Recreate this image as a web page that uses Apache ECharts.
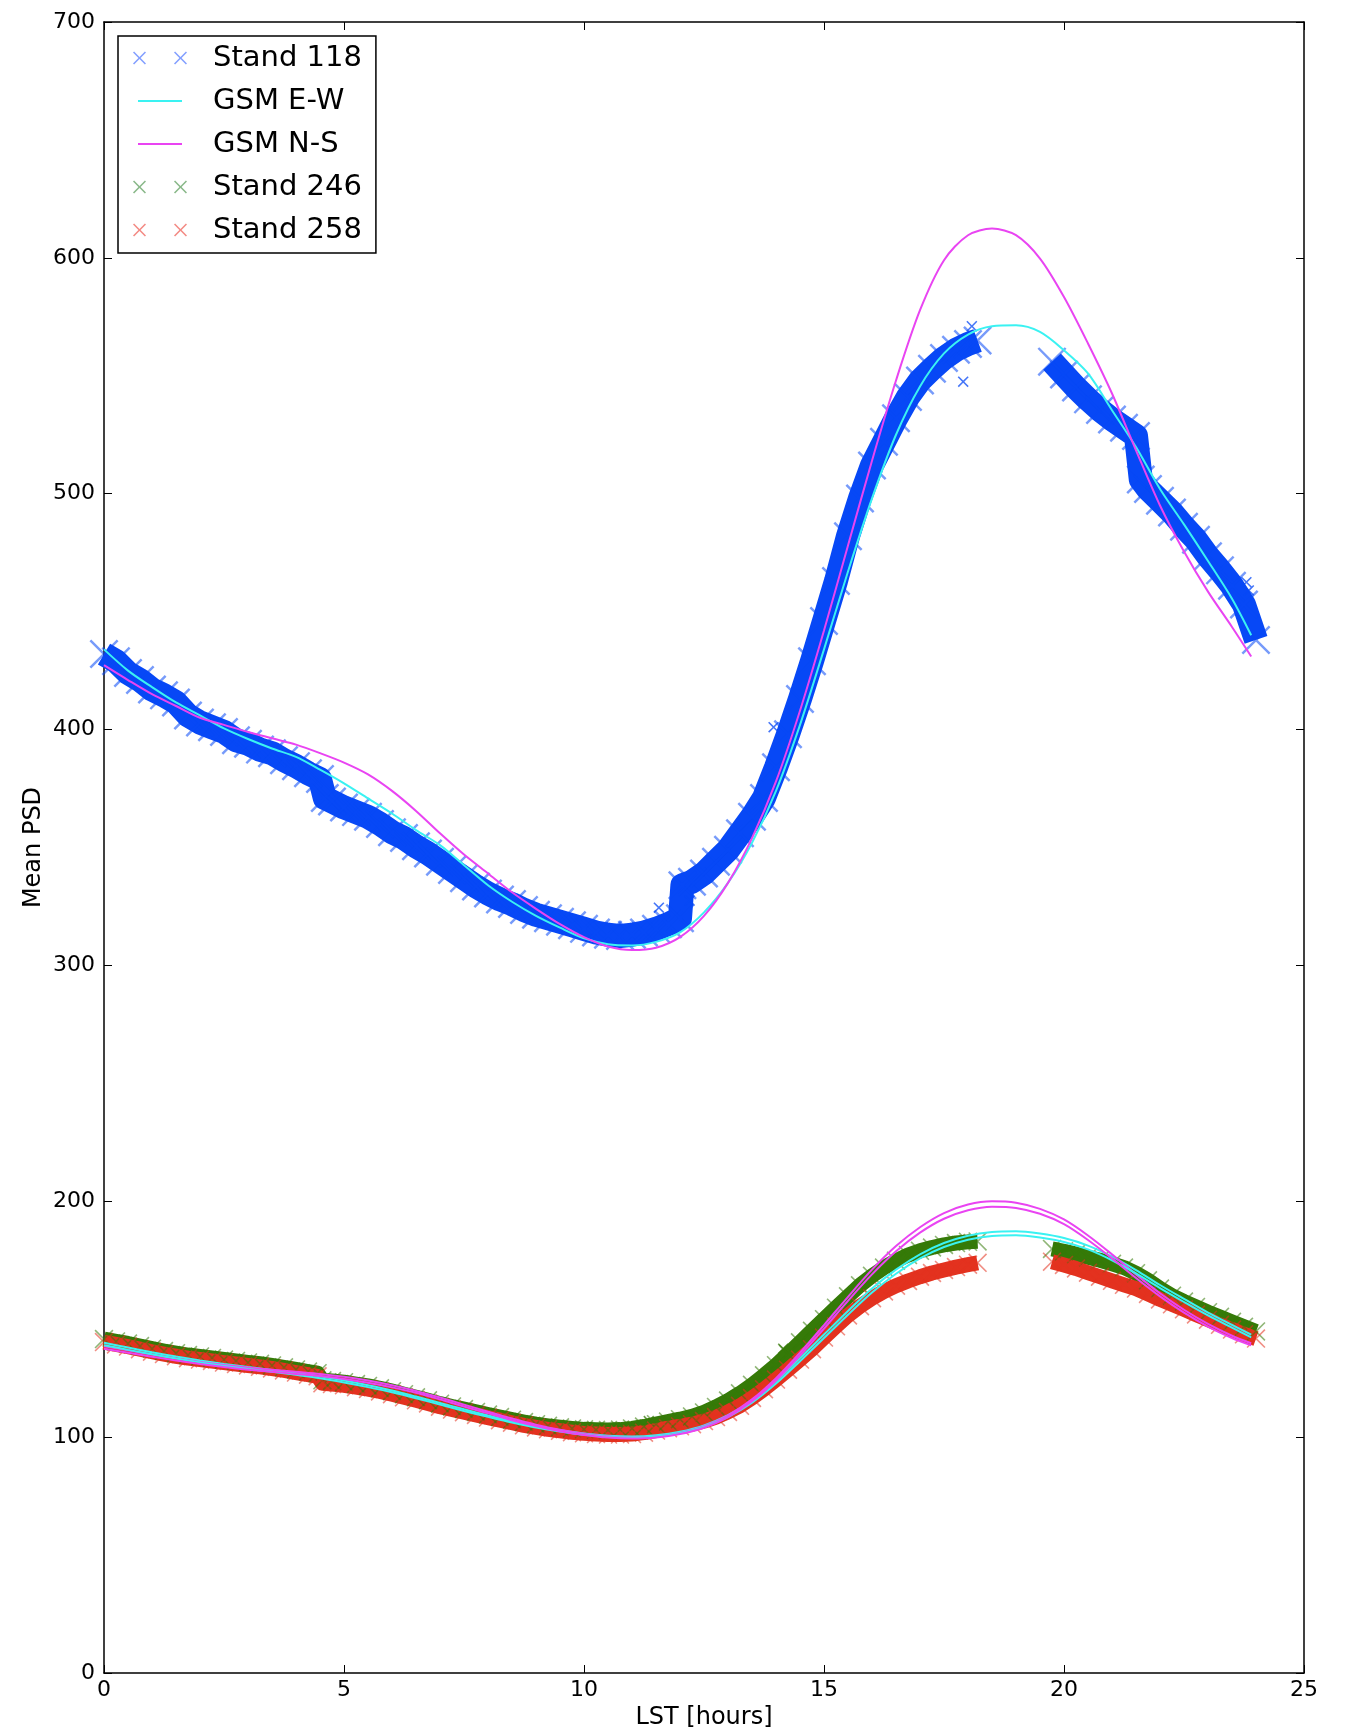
<!DOCTYPE html>
<html>
<head>
<meta charset="utf-8">
<script src="https://cdn.jsdelivr.net/npm/echarts@6/dist/echarts.min.js"></script>
<style>
  html, body { margin: 0; padding: 0; background: #ffffff; }
  #chart { width: 1348px; height: 1731px; }
</style>
</head>
<body>
<div id="chart"></div>
<script>
// Axis ticks
const xTicks = [0, 5, 10, 15, 20, 25];
const yTicks = [0, 100, 200, 300, 400, 500, 600, 700];

// Stand 118 mean PSD vs LST (hours); two runs either side of the gap
const stand118Early = [
  [0,432],[0.25,429],[0.5,424],[0.75,421],[1,417],[1.25,414.5],[1.5,411.5],[1.75,406],
  [2,403],[2.25,401],[2.5,399],[2.75,395.5],[3,394],[3.25,391.5],[3.5,390],[3.75,387],
  [4,384.5],[4.25,381.5],[4.5,379],[4.6,371],[4.75,369.5],[5,367],[5.25,365],[5.5,363],
  [5.75,360],[6,356.5],[6.25,354],[6.5,350.5],[6.75,347.5],[7,344],[7.25,340.5],[7.5,337],
  [7.75,333.5],[8,330.5],[8.25,328],[8.5,326],[8.75,323.5],[9,321.5],[9.25,320],[9.5,318.5],
  [9.75,317],[10,315.5],[10.25,314],[10.5,313],[10.75,312.5],[11,313],[11.25,314],[11.5,315.5],
  [11.75,317.5],[12,320],[12.05,334],[12.25,335.5],[12.5,339],[12.75,344],[13,349],[13.25,356],
  [13.5,363],[13.75,371],[14,384],[14.25,398],[14.5,413],[14.75,429],[15,446],[15.25,463],
  [15.5,482],[15.75,498],[16,512],[16.25,522],[16.5,532],[16.75,541],[17,548],[17.25,553],
  [17.5,557.5],[17.75,561],[18,563.5],[18.2,565]
];
const stand118Late = [
  [19.75,556],[20,550.5],[20.25,545],[20.5,540],[20.75,535.5],[21,531.5],[21.25,528],[21.5,524.5],
  [21.6,506],[21.75,502],[22,497],[22.25,492],[22.5,486],[22.75,480.5],[23,473.5],[23.25,467.5],
  [23.5,461],[23.75,453],[24,438]
];
const stand118Strays = [[11.56,324.5],[12.2,327.5],[13.95,401],[17.9,547.5],[18.08,571],[23.8,462.5],[23.85,459]];

// Stand 246
const stand246Early = [
  [0,141.6],[0.25,140.6],[0.5,139.7],[0.75,138.6],[1,137.5],[1.25,136.5],[1.5,135.6],[1.75,134.8],
  [2,134.2],[2.25,133.6],[2.5,132.9],[2.75,132.3],[3,131.7],[3.25,131.1],[3.5,130.4],[3.75,129.6],
  [4,128.7],[4.25,127.8],[4.45,127.1],[4.55,124.1],[4.75,123.8],[5,123.3],[5.25,122.5],[5.5,121.7],
  [5.75,120.7],[6,119.5],[6.25,118.2],[6.5,116.9],[6.75,115.6],[7,114.2],[7.25,113],[7.5,111.9],
  [7.75,110.7],[8,109.6],[8.25,108.5],[8.5,107.4],[8.75,106.4],[9,105.5],[9.25,104.8],[9.5,104.2],
  [9.75,103.7],[10,103.3],[10.25,103.1],[10.5,103],[10.75,103.2],[11,103.7],[11.25,104.5],[11.5,105.5],
  [11.75,106.6],[12,107.6],[12.25,108.8],[12.5,110.5],[12.75,112.8],[13,115.5],[13.25,118.6],[13.5,122.2],
  [13.75,126.2],[14,130.5],[14.25,135.3],[14.5,140.2],[14.75,145.1],[15,150],[15.25,154.9],[15.5,159.7],
  [15.75,164.4],[16,168.4],[16.25,171.9],[16.5,174.8],[16.75,177.2],[17,179],[17.25,180.4],[17.5,181.5],
  [17.75,182.3],[18,182.8],[18.2,183]
];
const stand246Late = [
  [19.75,179.8],[20,178.8],[20.25,177.6],[20.5,176.3],[20.75,175],[21,173.5],[21.25,171.9],[21.5,169.5],
  [21.75,166.5],[22,163],[22.25,160],[22.5,157.5],[22.75,155.2],[23,153],[23.25,151],[23.5,148.9],
  [23.75,146.8],[24,144.8]
];
const stand246Strays = [[11.35,106.8],[14.15,137.5]];

// Stand 258
const stand258Early = [
  [0,140.3],[0.25,139.3],[0.5,138.4],[0.75,137.3],[1,136.2],[1.25,135.2],[1.5,134.3],[1.75,133.5],
  [2,132.9],[2.25,132.3],[2.5,131.6],[2.75,131],[3,130.4],[3.25,129.8],[3.5,129.1],[3.75,128.3],
  [4,127.4],[4.25,126.5],[4.45,125.8],[4.55,122.8],[4.75,122.5],[5,122],[5.25,121.2],[5.5,120.4],
  [5.75,119.4],[6,118.2],[6.25,116.9],[6.5,115.6],[6.75,114.3],[7,112.9],[7.25,111.7],[7.5,110.6],
  [7.75,109.4],[8,108.3],[8.25,107.2],[8.5,106.1],[8.75,105],[9,104.1],[9.25,103.3],[9.5,102.7],
  [9.75,102.1],[10,101.6],[10.25,101.3],[10.5,101.1],[10.75,101.1],[11,101.3],[11.25,101.9],[11.5,102.8],
  [11.75,103.8],[12,104.6],[12.25,105.5],[12.5,106.8],[12.75,108.5],[13,110.7],[13.25,113.3],[13.5,116.6],
  [13.75,120.3],[14,124.4],[14.25,128.6],[14.5,132.9],[14.75,137.3],[15,142.2],[15.25,147],[15.5,151.6],
  [15.75,155.5],[16,158.9],[16.25,161.8],[16.5,164.2],[16.75,166.2],[17,168],[17.25,169.6],[17.5,170.9],
  [17.75,172.1],[18,173.1],[18.2,173.9]
];
const stand258Late = [
  [19.75,174.4],[20,173],[20.25,171.5],[20.5,169.7],[20.75,168],[21,166.3],[21.25,164.6],[21.5,163],
  [21.75,160.7],[22,158.4],[22.25,156.3],[22.5,154.2],[22.75,152],[23,149.8],[23.25,147.6],[23.5,145.6],
  [23.75,143.6],[24,141.8]
];

// Global sky model predictions, E-W and N-S dipoles
const gsmEW118 = [
  [0,434],[0.5,425],[1,418],[1.5,411.5],[2,406],[2.5,400.5],[3,396],[3.5,392],[4,388.4],[4.5,383],
  [5,377.2],[5.5,370.8],[6,364.4],[6.5,357.4],[7,351],[7.5,342.5],[8,334],[8.5,327],[9,321],[9.5,316],
  [10,311.5],[10.5,309],[11,308.5],[11.5,310],[12,314],[12.5,322.5],[13,335],[13.5,352],[14,374],[14.5,402],
  [15,434],[15.5,467],[16,498],[16.5,525],[17,545.5],[17.5,559.5],[18,567.5],[18.5,571],[19,571.4],[19.5,568.6],
  [20,560.8],[20.5,551],[21,535.4],[21.5,519.8],[22,502],[22.5,487],[23,471.5],[23.5,455.5],[23.9,440]
];
const gsmNS118 = [
  [0,427.3],[0.5,421],[1,415],[1.5,410],[2,405],[2.5,402],[3,399],[3.5,396.3],[4,393.6],[4.5,390],
  [5,386],[5.5,381],[6,374],[6.5,365.5],[7,356],[7.5,347],[8,339],[8.5,331],[9,324],[9.5,317.5],
  [10,312],[10.5,308],[11,306.5],[11.5,307.5],[12,312],[12.5,321],[13,335],[13.5,354],[14,378],[14.5,408],
  [15,442],[15.5,478],[16,514],[16.5,548],[17,577.8],[17.5,599],[18,609.6],[18.5,612.4],[19,609.6],[19.5,599.7],
  [20,583.4],[20.5,563.7],[21,542.5],[21.5,518.4],[22,495],[22.5,475.5],[23,458.5],[23.5,443.5],[23.9,431]
];
const gsmEW246 = [
  [0,140],[0.5,138],[1,136],[1.5,134.2],[2,132.5],[2.5,131],[3,129.7],[3.5,128.5],[4,127.2],[4.5,125.8],
  [5,124],[5.5,122],[6,119.8],[6.5,117.2],[7,114.5],[7.5,111.8],[8,109.2],[8.5,106.8],[9,104.7],[9.5,102.9],
  [10,101.5],[10.5,100.6],[11,100.3],[11.5,100.8],[12,102.3],[12.5,105],[13,109.3],[13.5,115.5],[14,123.8],[14.5,133.5],
  [15,143.5],[15.5,153.5],[16,163],[16.5,171],[17,177.5],[17.5,182.3],[18,185.4],[18.5,187],[19,187.3],[19.5,186.3],
  [20,184.4],[20.5,181.2],[21,176.5],[21.5,170.8],[22,164.5],[22.5,158.6],[23,152.8],[23.5,147.6],[23.9,143.5]
];
const gsmEW258 = [
  [0,139],[0.5,137],[1,135.1],[1.5,133.3],[2,131.7],[2.5,130.2],[3,128.9],[3.5,127.7],[4,126.4],[4.5,125],
  [5,123.2],[5.5,121.2],[6,119],[6.5,116.5],[7,113.8],[7.5,111.1],[8,108.6],[8.5,106.2],[9,104.1],[9.5,102.4],
  [10,101],[10.5,100.1],[11,99.8],[11.5,100.3],[12,101.7],[12.5,104.3],[13,108.5],[13.5,114.6],[14,122.7],[14.5,132.2],
  [15,142],[15.5,151.9],[16,161.3],[16.5,169.3],[17,175.8],[17.5,180.6],[18,183.7],[18.5,185.3],[19,185.6],[19.5,184.6],
  [20,182.7],[20.5,179.6],[21,175],[21.5,169.4],[22,163.2],[22.5,157.3],[23,151.6],[23.5,146.4],[23.9,142.3]
];
const gsmNS246 = [
  [0,138.5],[0.5,136.8],[1,135],[1.5,133.4],[2,131.9],[2.5,130.6],[3,129.5],[3.5,128.6],[4,127.7],[4.5,126.8],
  [5,125.6],[5.5,124],[6,122],[6.5,119.6],[7,116.8],[7.5,113.8],[8,110.8],[8.5,107.9],[9,105.3],[9.5,103.1],
  [10,101.4],[10.5,100.3],[11,99.9],[11.5,100.3],[12,101.8],[12.5,104.6],[13,109.2],[13.5,116],[14,125],[14.5,135.8],
  [15,147.5],[15.5,159.5],[16,171],[16.5,181],[17,189],[17.5,195],[18,198.6],[18.5,200],[19,199.4],[19.5,196.8],
  [20,192.3],[20.5,185.5],[21,177.5],[21.5,169],[22,161],[22.5,154],[23,148],[23.5,143],[23.9,139.8]
];
const gsmNS258 = [
  [0,137.5],[0.5,135.8],[1,134.1],[1.5,132.5],[2,131],[2.5,129.7],[3,128.6],[3.5,127.7],[4,126.8],[4.5,125.9],
  [5,124.7],[5.5,123.1],[6,121.1],[6.5,118.8],[7,116],[7.5,113],[8,110.1],[8.5,107.2],[9,104.7],[9.5,102.5],
  [10,100.9],[10.5,99.8],[11,99.4],[11.5,99.8],[12,101.3],[12.5,104],[13,108.5],[13.5,115.2],[14,124],[14.5,134.6],
  [15,146],[15.5,157.8],[16,169],[16.5,178.8],[17,186.7],[17.5,192.6],[18,196.2],[18.5,197.7],[19,197.2],[19.5,194.7],
  [20,190.3],[20.5,183.6],[21,175.8],[21.5,167.5],[22,159.7],[22.5,152.8],[23,146.9],[23.5,142],[23.9,138.9]
];

// ---- styling ----
const FONT = 'DejaVu Sans';
const BLUE = '#0748f6', GREEN = '#357a08', RED = '#e3321f';
const CYAN = '#3af2f2', MAGENTA = '#e944f2';

// filled "x" marker outlines on a 10x10 box
const X_MARK = 'path://M0,1 L1,0 L5,4 L9,0 L10,1 L6,5 L10,9 L9,10 L5,6 L1,10 L0,9 L4,5 Z';
const X_THIN = 'path://M0,0.6 L0.6,0 L5,4.4 L9.4,0 L10,0.6 L5.6,5 L10,9.4 L9.4,10 L5,5.6 L0.6,10 L0,9.4 L4.4,5 Z';
// legend glyphs on a 75x13 box: two x marks, or a short line
const LEG_X = 'path://M0,1.1 L1.1,0 L6.5,5.4 L11.9,0 L13,1.1 L7.6,6.5 L13,11.9 L11.9,13 L6.5,7.6 L1.1,13 L0,11.9 L5.4,6.5 Z ' +
  'M41,1.1 L42.1,0 L47.5,5.4 L52.9,0 L54,1.1 L48.6,6.5 L54,11.9 L52.9,13 L47.5,7.6 L42.1,13 L41,11.9 L46.4,6.5 Z ' +
  'M75,13 L74.99,13 L75,12.99 Z';
const LEG_LINE = 'path://M0,0 L0.01,0 L0,0.01 Z M75,13 L74.99,13 L75,12.99 Z M5,5.5 L49,5.5 L49,7.5 L5,7.5 Z';

function band(name, points, color, width, markSize) {
  return {
    type: 'line', name: name, data: points,
    symbol: X_THIN, symbolSize: markSize, showSymbol: true,
    itemStyle: { color: color, opacity: 0.55 },
    lineStyle: { color: color, width: width, join: 'round', cap: 'butt' },
    z: 2, silent: true
  };
}
function strays(name, points, color) {
  return {
    type: 'scatter', name: name, data: points,
    symbol: X_MARK, symbolSize: 11,
    itemStyle: { color: color, opacity: 0.75 },
    z: 2, silent: true
  };
}
function model(name, points, color) {
  return {
    type: 'line', name: name, data: points, smooth: 0.3,
    symbol: 'none', lineStyle: { color: color, width: 2 },
    itemStyle: { color: color }, z: 5, silent: true
  };
}

const tickStyle = { show: true, inside: true, length: 8, lineStyle: { color: '#000', width: 1 } };
const lineStyleAxis = { show: true, onZero: false, lineStyle: { color: '#000', width: 1.5 } };

const option = {
  animation: false,
  backgroundColor: '#ffffff',
  textStyle: { fontFamily: FONT },
  grid: { left: 104, right: 44, top: 22, bottom: 58, containLabel: false, outerBoundsMode: 'none' },
  legend: {
    orient: 'vertical', left: 118, top: 36,
    padding: [7, 14, 8, 15], itemGap: 13,
    itemWidth: 75, itemHeight: 13, symbolKeepAspect: false,
    backgroundColor: '#ffffff', borderColor: '#000', borderWidth: 1.5, borderRadius: 0,
    selectedMode: false,
    textStyle: { fontFamily: FONT, fontSize: 29, color: '#000', lineHeight: 30 },
    itemStyle: { borderWidth: 0, opacity: 1 },
    data: [
      { name: 'Stand 118', icon: LEG_X, itemStyle: { color: 'rgba(30,80,255,0.55)', borderWidth: 0, opacity: 1 } },
      { name: 'GSM E-W', icon: LEG_LINE, itemStyle: { color: CYAN, borderWidth: 0, opacity: 1 } },
      { name: 'GSM N-S', icon: LEG_LINE, itemStyle: { color: MAGENTA, borderWidth: 0, opacity: 1 } },
      { name: 'Stand 246', icon: LEG_X, itemStyle: { color: 'rgba(40,125,40,0.55)', borderWidth: 0, opacity: 1 } },
      { name: 'Stand 258', icon: LEG_X, itemStyle: { color: 'rgba(235,60,50,0.6)', borderWidth: 0, opacity: 1 } }
    ]
  },
  xAxis: [
    {
      type: 'value', position: 'bottom',
      min: xTicks[0], max: xTicks[xTicks.length - 1], interval: xTicks[1] - xTicks[0],
      name: 'LST [hours]', nameLocation: 'middle', nameGap: 33, nameMoveOverlap: false,
      nameTextStyle: { fontFamily: FONT, fontSize: 24, color: '#000' },
      axisLine: lineStyleAxis, axisTick: tickStyle,
      axisLabel: { fontFamily: FONT, fontSize: 22, color: '#000', margin: 6, showMinLabel: true, showMaxLabel: true },
      splitLine: { show: false }
    },
    {
      type: 'value', position: 'top',
      min: xTicks[0], max: xTicks[xTicks.length - 1], interval: xTicks[1] - xTicks[0],
      axisLine: lineStyleAxis, axisTick: tickStyle, axisLabel: { show: false }, splitLine: { show: false }
    }
  ],
  yAxis: [
    {
      type: 'value', position: 'left',
      min: yTicks[0], max: yTicks[yTicks.length - 1], interval: yTicks[1] - yTicks[0],
      name: 'Mean PSD', nameLocation: 'middle', nameGap: 58, nameMoveOverlap: false,
      nameTextStyle: { fontFamily: FONT, fontSize: 24, color: '#000' },
      axisLine: lineStyleAxis, axisTick: tickStyle,
      axisLabel: { fontFamily: FONT, fontSize: 22, color: '#000', margin: 9, showMinLabel: true, showMaxLabel: true },
      splitLine: { show: false }
    },
    {
      type: 'value', position: 'right',
      min: yTicks[0], max: yTicks[yTicks.length - 1], interval: yTicks[1] - yTicks[0],
      axisLine: lineStyleAxis, axisTick: tickStyle, axisLabel: { show: false }, splitLine: { show: false }
    }
  ],
  series: [
    band('Stand 118', stand118Early, BLUE, 24, 29),
    band('Stand 118', stand118Late, BLUE, 24, 29),
    strays('Stand 118', stand118Strays, BLUE),
    band('Stand 246', stand246Early, GREEN, 15, 19),
    band('Stand 246', stand246Late, GREEN, 15, 19),
    strays('Stand 246', stand246Strays, GREEN),
    band('Stand 258', stand258Early, RED, 15, 19),
    band('Stand 258', stand258Late, RED, 15, 19),
    model('GSM E-W', gsmEW118, CYAN),
    model('GSM N-S', gsmNS118, MAGENTA),
    model('GSM E-W', gsmEW246, CYAN),
    model('GSM N-S', gsmNS246, MAGENTA),
    model('GSM E-W', gsmEW258, CYAN),
    model('GSM N-S', gsmNS258, MAGENTA)
  ]
};

const chart = echarts.init(document.getElementById('chart'), null, { renderer: 'canvas' });
chart.setOption(option);
</script>
</body>
</html>
